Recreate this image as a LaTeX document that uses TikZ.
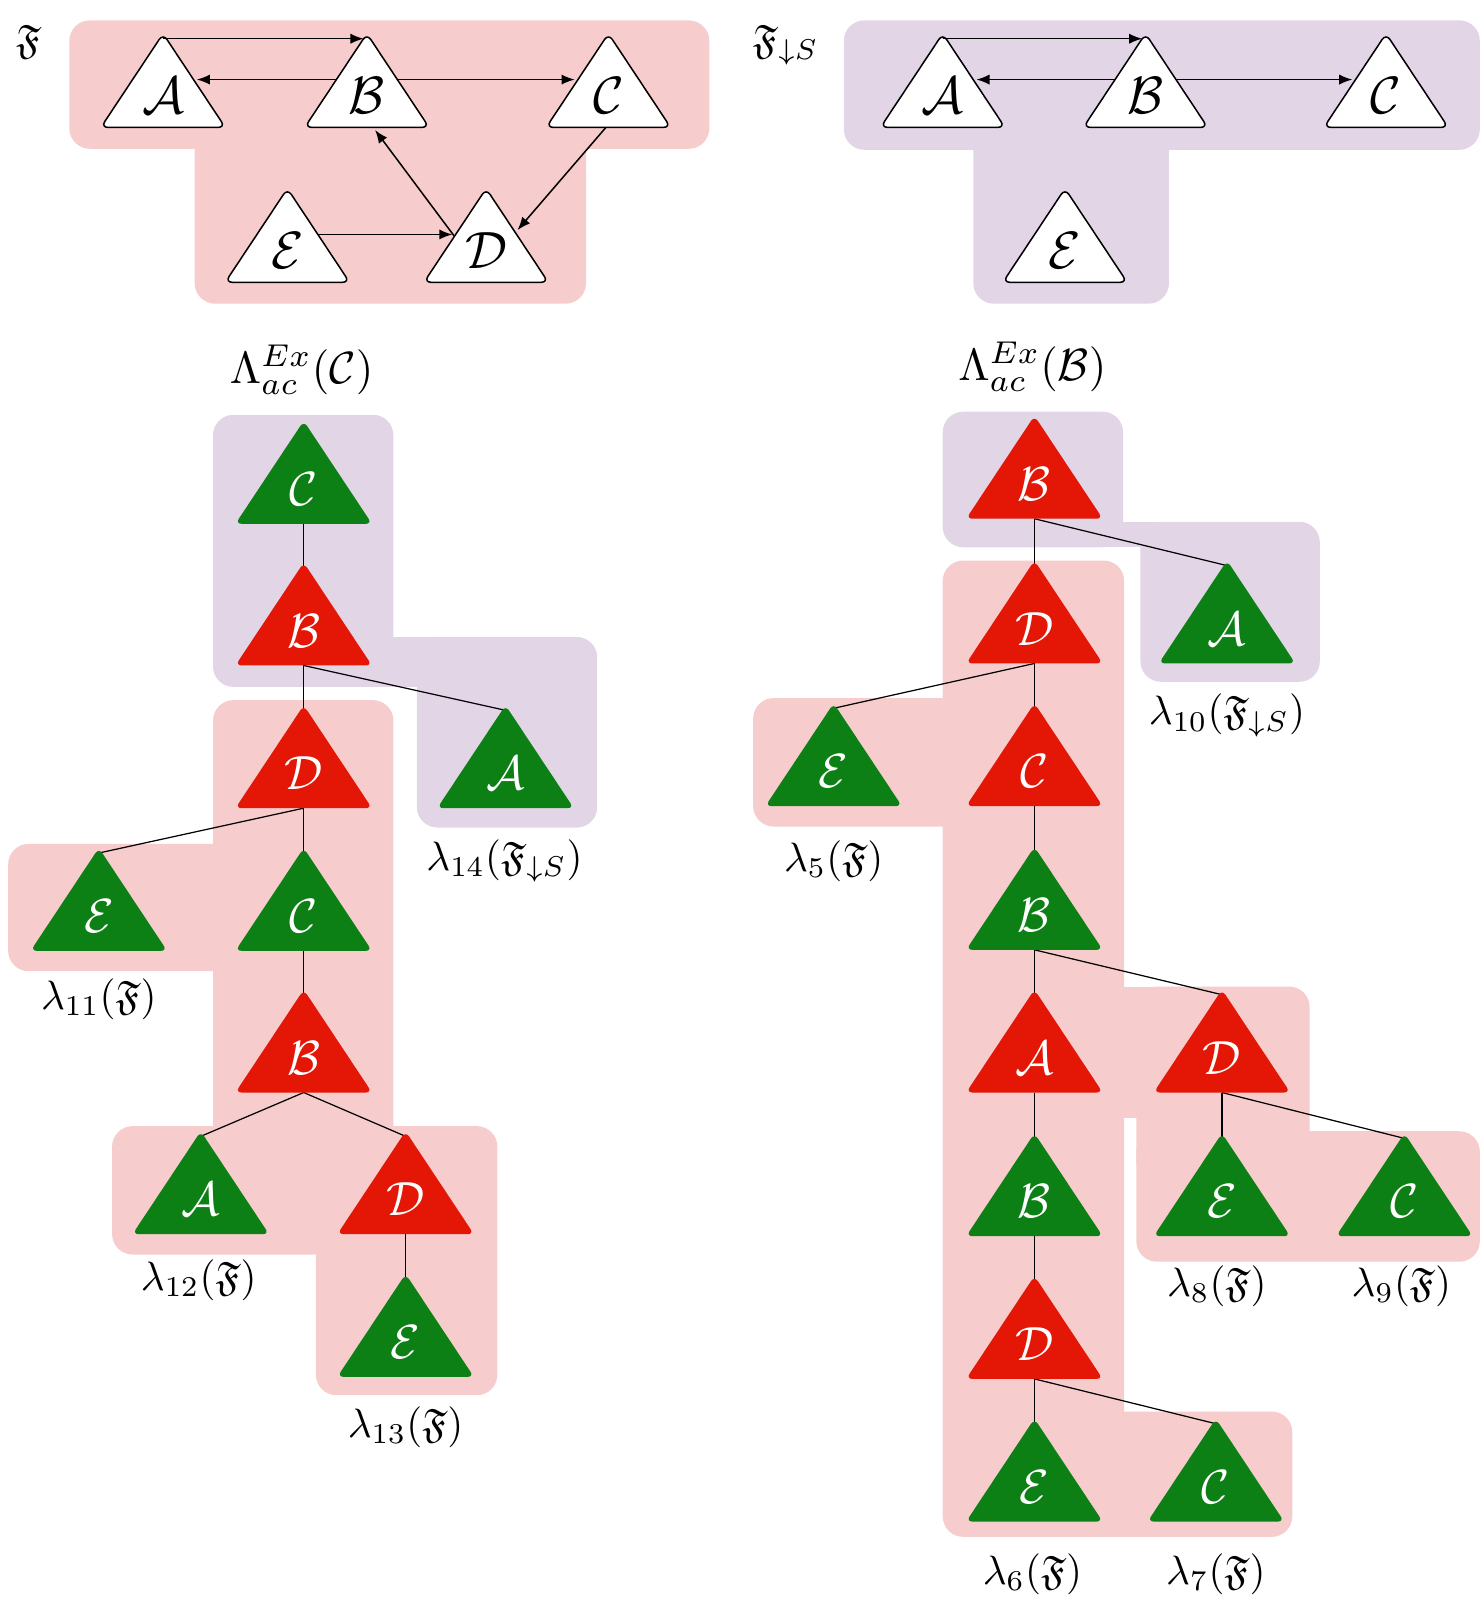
\RequirePackage{fix-cm}
\documentclass[tikz,border=0pt]{standalone}
\usepackage{amssymb}
\usetikzlibrary{arrows.meta,calc}
\definecolor{pinkbg}{RGB}{246,204,204}
\definecolor{purplebg}{RGB}{225,213,230}
\definecolor{tgreen}{RGB}{13,128,21}
\definecolor{tred}{RGB}{228,22,6}
\pgfdeclarelayer{back}
\pgfdeclarelayer{mid}
\pgfsetlayers{back,mid,main}
\tikzset{
  bgreg/.style={rounded corners=5pt},
  pinkreg/.style={bgreg, fill=pinkbg},
  purplereg/.style={bgreg, fill=purplebg},
  whitetri/.style={fill=white, draw=black, line width=0.37pt, rounded corners=1.7pt},
  whitetri letter/.style={inner sep=0pt, font=\fontsize{12.8}{15}\selectfont, text=black},
  greentri/.style={fill=tgreen, rounded corners=1.5pt},
  greentri letter/.style={inner sep=0pt, font=\fontsize{11.7}{14}\selectfont, text=white},
  redtri/.style={fill=tred, rounded corners=1.5pt},
  redtri letter/.style={inner sep=0pt, font=\fontsize{11.7}{14}\selectfont, text=white},
  arr/.style={draw=black, line width=0.37pt, -{Latex[length=3.2pt,width=2.5pt]}, shorten >=0.8pt},
  treeedge/.style={draw=black, line width=0.3pt},
  lbl/.style={inner sep=0pt, font=\fontsize{10}{12}\selectfont},
  titlelbl/.style={inner sep=0pt, font=\fontsize{11}{13}\selectfont},
  smalllbl/.style={inner sep=0pt, font=\fontsize{10}{12}\selectfont},
}
% #1 name, #2 x, #3 visible apex y, #4 geometric half width, #5 geometric height, #6 style, #7 letter
\newcommand\tri[7]{%
  \coordinate (#1-v) at (#2,#3);
  \coordinate (#1-t) at (#2,{#3-5});
  \coordinate (#1-l) at ({#2-#4},{#3-5+#5});
  \coordinate (#1-r) at ({#2+#4},{#3-5+#5});
  \coordinate (#1-b) at (#2,{#3-5+#5});
  \path[#6] (#1-t) -- (#1-r) -- (#1-l) -- cycle;
  \node[#6 letter] (#1) at (#2,{#3+0.645*(#5-5)}) {$\mathcal{#7}$};
}
\newcommand\toptri[4]{\tri{#1}{#2}{#3}{61}{92}{whitetri}{#4}}
\newcommand\gtri[4]{\tri{#1}{#2}{#3}{67}{101}{greentri}{#4}}
\newcommand\rtri[4]{\tri{#1}{#2}{#3}{67}{101}{redtri}{#4}}
\begin{document}
\begin{tikzpicture}[x=0.2486pt,y=-0.2486pt]
\useasboundingbox (0,0) rectangle (1453,1568);
% ---------------- backgrounds
\begin{pgfonlayer}{back}
  % top left
  \fill[pinkreg] (68,20) rectangle (696,146);
  \fill[pinkreg] (191,100) rectangle (575,298);
  % top right
  \fill[purplereg] (828,20) rectangle (1452,147);
  \fill[purplereg] (955,100) rectangle (1147,298);
  % left tree purple
  \fill[purplereg] (209,407) rectangle (386,674);
  \fill[purplereg] (409,625) rectangle (586,812);
  \fill[purplebg] (366,625) rectangle (429,674);
  % left tree pink
  \fill[pinkreg] (209,687) rectangle (386,1150);
  \fill[pinkreg] (8,828) rectangle (250,953);
  \fill[pinkreg] (110,1105) rectangle (330,1231);
  \fill[pinkreg] (310,1105) rectangle (488,1369);
  % right tree purple
  \fill[purplereg] (925,404) rectangle (1102,537);
  \fill[purplereg] (1119,512) rectangle (1295,669);
  \fill[purplebg] (1082,512) rectangle (1139,537);
  % right tree pink
  \fill[pinkreg] (925,550) rectangle (1103,1508);
  \fill[pinkreg] (739,685) rectangle (945,811);
  \fill[pinkreg] (1115,968) rectangle (1285,1160);
  \fill[pinkbg] (1083,968) rectangle (1135,1097);
  \fill[pinkreg] (1115,1110) rectangle (1452,1238);
  \fill[pinkreg] (1060,1385) rectangle (1268,1508);
\end{pgfonlayer}
% ---------------- top left graph
\node[smalllbl] (F1) at (28,41) {$\mathfrak{F}$};
\toptri{a1}{160}{38}{A}
\toptri{b1}{360}{38}{B}
\toptri{c1}{597}{38}{C}
\toptri{e1}{282}{190}{E}
\toptri{d1}{477}{190}{D}
\draw[arr] (a1-v) -- (b1-v);
\draw[arr] ($(b1-t)!0.49!(b1-l)$) -- ($(a1-t)!0.49!(a1-r)$);
\draw[arr] ($(b1-t)!0.49!(b1-r)$) -- ($(c1-t)!0.49!(c1-l)$);
\draw[arr] ($(e1-t)!0.49!(e1-r)$) -- ($(d1-t)!0.49!(d1-l)$);
\draw[arr] ($(d1-t)!0.51!(d1-l)$) -- ($(b1-l)!0.55!(b1-r)$);
\draw[arr] ($(c1-l)!0.48!(c1-r)$) -- ($(d1-t)!0.47!(d1-r)$);
% ---------------- top right graph
\node[smalllbl] (F2) at (771,44) {$\mathfrak{F}_{\downarrow S}$};
\toptri{a2}{925}{38}{A}
\toptri{b2}{1124}{38}{B}
\toptri{c2}{1360}{38}{C}
\toptri{e2}{1045}{190}{E}
\draw[arr] (a2-v) -- (b2-v);
\draw[arr] ($(b2-t)!0.49!(b2-l)$) -- ($(a2-t)!0.49!(a2-r)$);
\draw[arr] ($(b2-t)!0.49!(b2-r)$) -- ($(c2-t)!0.49!(c2-l)$);
% ---------------- left tree
\node[titlelbl] (T1) at (296,363) {$\Lambda^{Ex}_{ac}(\mathcal{C})$};
\gtri{L1}{298}{418}{C}
\rtri{L2}{298}{557}{B}
\rtri{L3}{298}{697}{D}
\gtri{L4}{496}{697}{A}
\gtri{L5}{97}{837}{E}
\gtri{L6}{298}{837}{C}
\rtri{L7}{298}{976}{B}
\gtri{L8}{197}{1115}{A}
\rtri{L9}{398}{1115}{D}
\gtri{L10}{398}{1255}{E}
\node[lbl] (l14) at (495,845) {$\lambda_{14}(\mathfrak{F}_{\downarrow S})$};
\node[lbl] (l11) at (97,980) {$\lambda_{11}(\mathfrak{F})$};
\node[lbl] (l12) at (195,1256) {$\lambda_{12}(\mathfrak{F})$};
\node[lbl] (l13) at (398,1400) {$\lambda_{13}(\mathfrak{F})$};
% ---------------- right tree
\node[titlelbl] (T2) at (1013,360) {$\Lambda^{Ex}_{ac}(\mathcal{B})$};
\rtri{R1}{1015}{413}{B}
\rtri{R2}{1015}{555}{D}
\gtri{R3}{1204}{555}{A}
\gtri{R4}{818}{695}{E}
\rtri{R5}{1015}{695}{C}
\gtri{R6}{1015}{836}{B}
\rtri{R7}{1015}{976}{A}
\rtri{R8}{1199}{976}{D}
\gtri{R9}{1015}{1117}{B}
\gtri{R10}{1199}{1117}{E}
\gtri{R11}{1378}{1117}{C}
\rtri{R12}{1015}{1257}{D}
\gtri{R13}{1015}{1397}{E}
\gtri{R14}{1193}{1397}{C}
\node[lbl] (l10) at (1204,702) {$\lambda_{10}(\mathfrak{F}_{\downarrow S})$};
\node[lbl] (l5) at (818,845) {$\lambda_{5}(\mathfrak{F})$};
\node[lbl] (l8) at (1194,1262) {$\lambda_{8}(\mathfrak{F})$};
\node[lbl] (l9) at (1375,1262) {$\lambda_{9}(\mathfrak{F})$};
\node[lbl] (l6) at (1013,1545) {$\lambda_{6}(\mathfrak{F})$};
\node[lbl] (l7) at (1193,1545) {$\lambda_{7}(\mathfrak{F})$};
% ---------------- tree edges
\begin{pgfonlayer}{mid}
  \draw[treeedge] (L1-b) -- (L2-v);
  \draw[treeedge] (L2-b) -- (L3-v);
  \draw[treeedge] (L2-b) -- (L4-v);
  \draw[treeedge] (L3-b) -- (L5-v);
  \draw[treeedge] (L3-b) -- (L6-v);
  \draw[treeedge] (L6-b) -- (L7-v);
  \draw[treeedge] (L7-b) -- (L8-v);
  \draw[treeedge] (L7-b) -- (L9-v);
  \draw[treeedge] (L9-b) -- (L10-v);
  \draw[treeedge] (R1-b) -- (R2-v);
  \draw[treeedge] (R1-b) -- (R3-v);
  \draw[treeedge] (R2-b) -- (R4-v);
  \draw[treeedge] (R2-b) -- (R5-v);
  \draw[treeedge] (R5-b) -- (R6-v);
  \draw[treeedge] (R6-b) -- (R7-v);
  \draw[treeedge] (R6-b) -- (R8-v);
  \draw[treeedge] (R7-b) -- (R9-v);
  \draw[treeedge] (R8-b) -- (R10-v);
  \draw[treeedge] (R8-b) -- (R11-v);
  \draw[treeedge] (R9-b) -- (R12-v);
  \draw[treeedge] (R12-b) -- (R13-v);
  \draw[treeedge] (R12-b) -- (R14-v);
\end{pgfonlayer}
\end{tikzpicture}
\end{document}
